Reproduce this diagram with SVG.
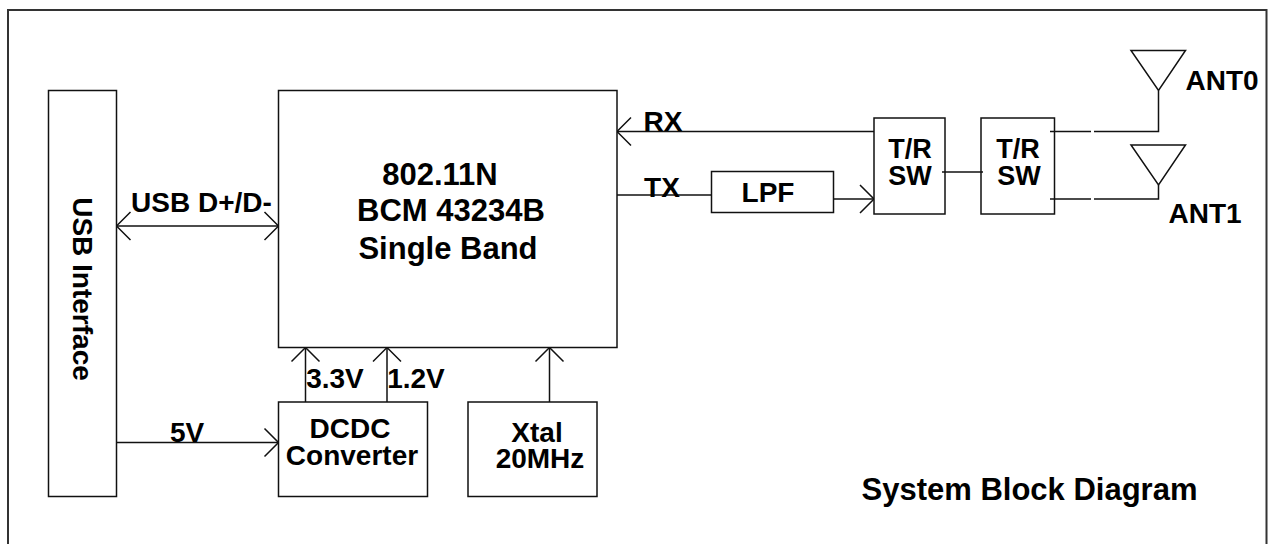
<svg xmlns="http://www.w3.org/2000/svg" width="1270" height="544" viewBox="0 0 1270 544">
<style>
.b{fill:#fff;stroke:#111;stroke-width:1.5}
.l{fill:none;stroke:#111;stroke-width:1.5}
text{font-family:"Liberation Sans",Arial,sans-serif;font-weight:700;fill:#000;text-anchor:middle}
.m{font-size:28px}
.s{font-size:27px}
.c{font-size:31px}
</style>
<defs>
<marker id="a" markerUnits="userSpaceOnUse" markerWidth="16" markerHeight="30" refX="14.5" refY="15" orient="auto-start-reverse" overflow="visible">
<path d="M0.5 1L14.5 15L0.5 29" fill="none" stroke="#111" stroke-width="1.5"/>
</marker>
</defs>
<rect x="0" y="0" width="1270" height="544" fill="#fff"/>
<g id="frame"><path class="l" d="M8 544V10H1266.500V544" style="stroke:#333;stroke-width:2"/></g>
<g id="connectors">
<path class="l" d="M116.500 226H278.500" marker-start="url(#a)" marker-end="url(#a)"/>
<path class="l" d="M116.500 442.500H278.500" marker-end="url(#a)"/>
<path class="l" d="M305.500 402V347.500" marker-end="url(#a)"/>
<path class="l" d="M387 402V347.500" marker-end="url(#a)"/>
<path class="l" d="M549.500 402V347.500" marker-end="url(#a)"/>
<path class="l" d="M874 131.500H617" marker-end="url(#a)"/>
<path class="l" d="M617 195H711.500"/>
<path class="l" d="M833.500 199H874" marker-end="url(#a)"/>
</g>
<g id="usb"><rect class="b" x="48.500" y="90.500" width="68" height="406"/>
<text class="m" transform="translate(73 289) rotate(90)">USB Interface</text></g>
<g id="chip"><rect class="b" x="278.500" y="90.500" width="338.500" height="257"/>
<text class="c" x="440" y="185">802.11N</text>
<text class="c" x="451" y="221">BCM 43234B</text>
<text class="c" x="448" y="259">Single Band</text></g>
<g id="dcdc"><rect class="b" x="278.500" y="402" width="149" height="94.500"/>
<text class="m" x="350" y="438">DCDC</text><text class="m" x="352" y="465">Converter</text></g>
<g id="xtal"><rect class="b" x="468" y="402" width="129" height="94.500"/>
<text class="m" x="537" y="442">Xtal</text><text class="m" x="540" y="468">20MHz</text></g>
<g id="lpf"><rect class="b" x="711.500" y="171.500" width="122" height="41"/>
<text class="m" x="768" y="202">LPF</text></g>
<g id="sw1"><rect class="b" x="874" y="118" width="71" height="96"/>
<text class="s" x="910" y="158">T/R</text><text class="s" x="910" y="185">SW</text></g>
<g id="sw2"><rect class="b" x="981" y="118" width="73.500" height="96"/>
<text class="s" x="1018" y="158">T/R</text><text class="s" x="1019" y="185">SW</text></g>
<g id="connectors2">
<path class="l" d="M942 172H983"/>
<path class="l" d="M1050 131.500H1091M1094 131.500H1158.500V90.500"/>
<path class="l" d="M1050 199H1091M1094 199H1158.500V185"/>
</g>
<g id="ant0"><path class="l" d="M1131 50.500H1185.500L1158.500 90.500Z"/><text class="m" x="1222" y="90">ANT0</text></g>
<g id="ant1"><path class="l" d="M1131 145H1185.500L1158.500 185Z"/><text class="m" x="1205" y="222.500">ANT1</text></g>
<g id="labels">
<text class="m" x="201.500" y="212">USB D+/D-</text>
<text class="m" x="187" y="442">5V</text>
<text class="m" x="335" y="388">3.3V</text>
<text class="m" x="416" y="388">1.2V</text>
<text class="m" x="663" y="131">RX</text>
<text class="m" x="662" y="197">TX</text>
<text x="1029.500" y="500" style="font-size:31px">System Block Diagram</text>
</g>
</svg>
